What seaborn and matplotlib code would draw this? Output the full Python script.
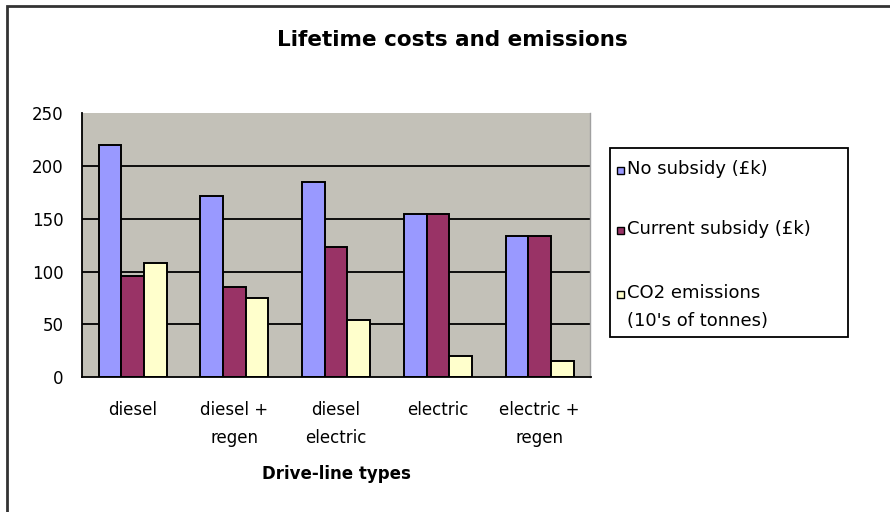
import matplotlib
matplotlib.use("Agg")
import matplotlib.pyplot as plt
import seaborn as sns
import pandas as pd
from matplotlib.patches import Rectangle

categories = ["diesel", "diesel +\nregen", "diesel\nelectric", "electric", "electric +\nregen"]
series_names = ["No subsidy (£k)", "Current subsidy (£k)", "CO2 emissions\n(10's of tonnes)"]
no_subsidy = [220, 172, 185, 155, 134]
current_subsidy = [96, 85, 123, 155, 134]
co2_emissions = [108, 75, 54, 20, 15]
y_ticks = [0, 50, 100, 150, 200, 250]
colors = ["#9999FF", "#993366", "#FFFFCC"]

rows = []
for name, vals in zip(series_names, [no_subsidy, current_subsidy, co2_emissions]):
    for c, v in zip(categories, vals):
        rows.append({"category": c, "series": name, "value": v})
df = pd.DataFrame(rows)

sns.set_style("white")
plt.rcParams["font.family"] = ["DejaVu Sans"]
plt.rcParams["text.color"] = "black"
plt.rcParams["axes.labelcolor"] = "black"
plt.rcParams["xtick.color"] = "black"
plt.rcParams["ytick.color"] = "black"

W, H = 890, 512
fig = plt.figure(figsize=(W / 100, H / 100), dpi=100)
ax = fig.add_axes([81.7 / W, 1 - 377 / H, (590.5 - 81.7) / W, (377 - 113.3) / H])
ax.set_facecolor("#C3C1B8")

sns.barplot(data=df, x="category", y="value", hue="series", order=categories,
            hue_order=series_names, palette=colors, width=0.667, gap=0,
            edgecolor="black", linewidth=1.4, saturation=1, legend=False, ax=ax, zorder=3)

ax.set_ylim(0, 250)
ax.set_xlim(-0.5, len(categories) - 0.5)
ax.set_yticks(y_ticks)
ax.set_yticklabels([str(t) for t in y_ticks], fontsize=12)
for t in y_ticks[1:-1]:
    ax.axhline(t, color="black", linewidth=1.3, zorder=1)

ax.set_xticks([i - 0.5 for i in range(len(categories) + 1)])
ax.set_xticklabels([])
ax.set_xticks(range(len(categories)), minor=True)
ax.set_xticklabels(categories, minor=True, fontsize=12, linespacing=1.75)
ax.tick_params(axis="x", which="major", direction="out", length=7, width=1.3)
ax.tick_params(axis="x", which="minor", length=0, pad=17)
ax.tick_params(axis="y", which="major", direction="inout", length=12, width=1.3, pad=7)
ax.set_xlabel("Drive-line types", fontsize=12, fontweight="bold", labelpad=13)
ax.set_ylabel("")

ax.spines["top"].set_visible(False)
ax.spines["right"].set_color("#A0A0A0")
ax.spines["right"].set_linewidth(1.0)
for s in ["left", "bottom"]:
    ax.spines[s].set_color("black")
    ax.spines[s].set_linewidth(1.3)
    ax.spines[s].set_zorder(4)

fig.text(452 / W, 1 - 40 / H, "Lifetime costs and emissions", ha="center", va="center",
         fontsize=15.5, fontweight="bold")

# outer chart border (only left and top visible within the image)
fig.add_artist(Rectangle((7 / W, -0.1), 1.2, 1 - 6 / H + 0.1, transform=fig.transFigure,
                         fill=False, edgecolor="#333333", linewidth=2))

# legend box
fig.add_artist(Rectangle((610 / W, 1 - 337 / H), (848 - 610) / W, (337 - 148) / H,
                         transform=fig.transFigure, fill=True, facecolor="white",
                         edgecolor="black", linewidth=1.3))
leg_y = [170, 230, 294]
for name, col, yy in zip(series_names, colors, leg_y):
    fig.add_artist(Rectangle((617 / W, 1 - (yy + 4) / H), 7 / W, 7 / H,
                             transform=fig.transFigure, facecolor=col,
                             edgecolor="black", linewidth=1))
    fig.text(627 / W, 1 - (yy - 9.5) / H, name, ha="left", va="top", fontsize=13,
             linespacing=1.65)

fig.savefig("out.png", dpi=100, facecolor="white")
